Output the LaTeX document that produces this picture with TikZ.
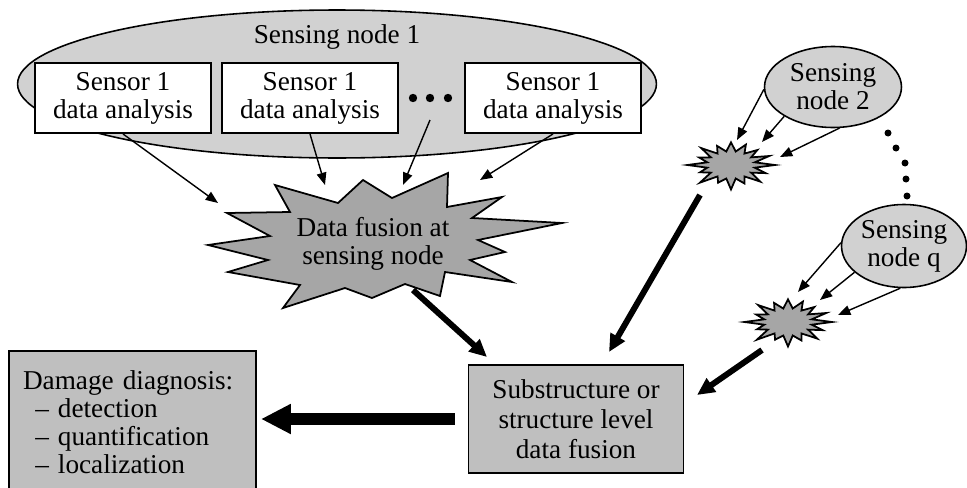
\documentclass[tikz,border=0pt]{standalone}
\usepackage{fontspec}
\setmainfont{Liberation Serif}
\usetikzlibrary{arrows.meta,positioning,shapes.geometric}

\begin{document}
\begin{tikzpicture}[x=0.02cm,y=-0.02cm,
    every node/.style={font=\fontsize{15.5}{16}\selectfont},
    sensorbox/.style={draw,line width=1.1pt,fill=white,minimum width=3.52cm,
      minimum height=1.4cm,align=center,inner sep=1pt},
    greybox/.style={draw,line width=1.1pt,fill=black!25},
    sensing/.style={ellipse,draw,line width=0.9pt,fill=black!18,align=center,inner sep=0pt},
    burst/.style={draw,line width=1pt,fill=black!35,line join=miter},
    thinarr/.style={-{Triangle[length=7pt,width=5.5pt]},line width=0.8pt},
    fatarr/.style={-{Triangle[length=10pt,width=9pt]},line width=3.4pt},
    hugearr/.style={-{Triangle[length=17pt,width=16pt]},line width=6.5pt}]
    \def\spark(#1,#2){
      \draw[burst,shift={(#1,#2)}] (0:44 and 25)
        \foreach \k [evaluate=\k as \r using {mod(\k,2)==0 ? 0.88+0.12*sin(\k*97) : 0.55}]
          in {1,...,31} { -- ({\k*360/32}:{44*\r} and {25*\r}) } -- cycle;
    }
    \useasboundingbox (0,0) rectangle (967,487);
    \node[sensing,minimum width=12.78cm,minimum height=2.96cm] (sn1) at (337,84) {};
    \node (sn1lbl) at (337,37) {Sensing node 1};
    \node[sensorbox] (s1) at (123,98) {Sensor 1\\data analysis};
    \node[sensorbox] (s2) at (310,98) {Sensor 1\\data analysis};
    \node[sensorbox] (s3) at (553,98) {Sensor 1\\data analysis};
    \foreach \x in {413,430,448} {
      \fill (\x,98) circle (4.2);
    }
    \coordinate (dots) at (430,120);
    \draw[burst] (208,245) -- (270,236) -- (227,213) -- (290,212) -- (275,185)
      -- (338,203) -- (363,180) -- (392,198) -- (448,173) -- (447,207)
      -- (502,197) -- (472,218) -- (562,223) -- (478,240) -- (505,252)
      -- (470,260) -- (512,282) -- (445,272) -- (440,296) -- (405,284)
      -- (372,298) -- (345,288) -- (283,308) -- (300,285) -- (228,272)
      -- (268,260) -- cycle;
    \node[align=center] (fuse) at (373,244) {Data fusion at\\sensing node};
    \node[sensing,minimum width=2.74cm,minimum height=1.62cm] (n2) at (833,87) {Sensing\\node 2};
    \node[sensing,minimum width=2.5cm,minimum height=1.66cm] (nq) at (904,246) {Sensing\\node q};
    \spark(731,165)
    \spark(788,322)
    \foreach \p in {(888,133),(896,148),(905,163),(906,179),(907,196)} {
      \fill \p circle (3.5);
    }
    \node[greybox,align=center,minimum width=4.3cm,minimum height=2.16cm,
      font=\fontsize{15.5}{17}\selectfont] (sub) at (576,419)
      {Substructure or\\structure level\\data fusion};
    \node[greybox,anchor=north west,align=left,minimum width=4.94cm,minimum height=2.84cm,
      inner xsep=8pt,text width=4.38cm] (diag) at (8,350)
      {Damage diagnosis:\\\hspace*{0.45em}– detection\\\hspace*{0.45em}– quantification\\\hspace*{0.45em}– localization};
    \coordinate (t1) at (218,203);
    \coordinate (t2) at (325,185);
    \coordinate (t3) at (403,185);
    \coordinate (t4) at (480,180);
    \coordinate (a1) at (737,140);
    \coordinate (a2) at (762,142);
    \coordinate (a3) at (780,157);
    \coordinate (b1) at (798,292);
    \coordinate (b2) at (820,300);
    \coordinate (b3) at (838,315);
    \coordinate (f1) at (413,290);
    \coordinate (f2) at (487,357);
    \coordinate (g1) at (700,195);
    \coordinate (g2) at (609,352);
    \coordinate (h1) at (762,350);
    \coordinate (h2) at (697,395);
    \draw[thinarr] (s1.south) -- (t1);
    \draw[thinarr] (s2.south) -- (t2);
    \draw[thinarr] (dots) -- (t3);
    \draw[thinarr] (s3.south) -- (t4);
    \draw[thinarr] (n2.182) -- (a1);
    \draw[thinarr] (n2.211) -- (a2);
    \draw[thinarr] (n2.279) -- (a3);
    \draw[thinarr] (nq.177) -- (b1);
    \draw[thinarr] (nq.208) -- (b2);
    \draw[thinarr] (nq.265) -- (b3);
    \draw[fatarr] (f1) -- (f2);
    \draw[fatarr] (g1) -- (g2);
    \draw[fatarr] (h1) -- (h2);
    \draw[hugearr,shorten <=0.26cm,shorten >=0.08cm] (sub.west) -- (diag.east |- sub.west);
\end{tikzpicture}
\end{document}
